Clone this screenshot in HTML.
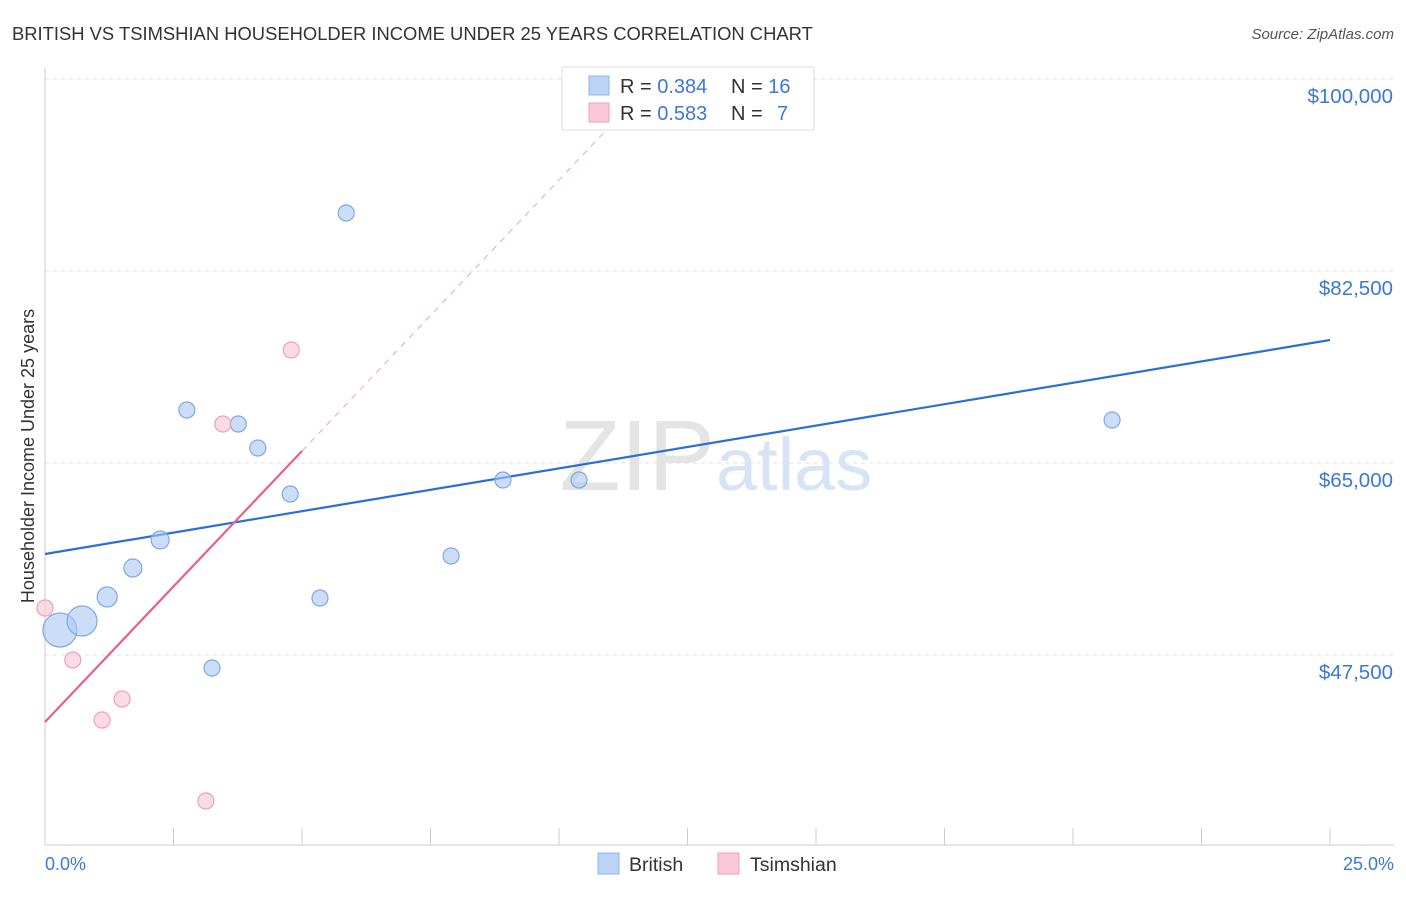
<!DOCTYPE html>
<html><head><meta charset="utf-8"><style>
body{margin:0;background:#fff;font-family:"Liberation Sans",sans-serif;}
svg text{font-family:"Liberation Sans",sans-serif;}
</style></head><body>
<svg id="chart" width="1406" height="892" xmlns="http://www.w3.org/2000/svg">
<text x="12" y="40" font-size="18.4" fill="#333">BRITISH VS TSIMSHIAN HOUSEHOLDER INCOME UNDER 25 YEARS CORRELATION CHART</text>
<text x="1394" y="39" font-size="15" fill="#555" text-anchor="end" font-style="italic">Source: ZipAtlas.com</text>
<text x="715" y="490" font-size="100" fill="#e4e4e4" text-anchor="end" font-family="Liberation Serif">ZIP</text>
<text x="716" y="490" font-size="74" fill="#d6e4f5">atlas</text>
<g id="grid"></g>
<line x1="45" y1="67" x2="45" y2="845" stroke="#ccc"/>
<line x1="45" y1="845" x2="1394" y2="845" stroke="#ccc"/>
<g id="marks"></g>
<text x="34" y="456" font-size="18" fill="#333" text-anchor="middle" transform="rotate(-90 34 456)">Householder Income Under 25 years</text>
<text x="45" y="870" font-size="18" fill="#3b78d8">0.0%</text>
<text x="1394" y="870" font-size="18" fill="#3b78d8" text-anchor="end">25.0%</text>
<g>
<rect x="562" y="67" width="252" height="63" fill="#fff" stroke="#ddd"/>
<rect x="589" y="76" width="20" height="19" fill="#bcd4f5" stroke="#8fb4e8"/>
<rect x="589" y="103" width="20" height="19" fill="#fac9d8" stroke="#f0a0b9"/>
<text x="620" y="93" font-size="20" fill="#333">R = <tspan fill="#3b78d8">0.384</tspan></text>
<text x="731" y="93" font-size="20" fill="#333">N = <tspan fill="#3b78d8">16</tspan></text>
<text x="620" y="120" font-size="20" fill="#333">R = <tspan fill="#3b78d8">0.583</tspan></text>
<text x="731" y="120" font-size="20" fill="#333">N = <tspan x="777" fill="#3b78d8">7</tspan></text>
</g>
<g>
<rect x="598" y="853" width="21" height="21" fill="#bcd4f5" stroke="#8fb4e8"/>
<text x="629" y="871" font-size="19.5" fill="#333">British</text>
<rect x="718" y="853" width="21" height="21" fill="#fac9d8" stroke="#f0a0b9"/>
<text x="750" y="871" font-size="19.5" fill="#333">Tsimshian</text>
</g>
</svg>
<script>
const yTicks=[100000,82500,65000,47500];
const yTickLabels=["$100,000","$82,500","$65,000","$47,500"];
const britishX=[0.29,0.72,1.21,1.71,2.24,2.76,3.25,3.76,4.14,4.77,5.35,5.86,7.90,8.91,10.39,20.76];
const britishY=[49779,50599,52786,55430,57982,69831,46315,68555,66367,62174,52695,87786,56523,63451,63451,68919];
const britishR=[17,15,10,9,9,8,8,8,8,8,8,8,8,8,8,8];
const tsimX=[0,0.54,1.11,1.50,3.13,3.46,4.79];
const tsimY=[51784,47044,41576,43490,34193,68555,75299];
const britishTrend=[56706,76211];
const tsimTrend=[41393,66094];
const NS="http://www.w3.org/2000/svg";
const xs=p=>45+p/25*1285;
const ys=v=>79+(100000-v)/17500*192;
const grid=document.getElementById('grid'),marks=document.getElementById('marks');
function mk(tag,attrs,parent){const e=document.createElementNS(NS,tag);for(const k in attrs)e.setAttribute(k,attrs[k]);parent.appendChild(e);return e;}
yTicks.forEach((v,i)=>{
 const l=mk('line',{x1:45,x2:1394,y1:ys(v),y2:ys(v),stroke:'#e2e2e2','stroke-dasharray':'4,4'},grid);
 
 
 const t=mk('text',{x:1393,y:ys(v)+24,'font-size':20.5,fill:'#3b78d8','text-anchor':'end'},grid);
 t.textContent=yTickLabels[i];
 
 
});
for(let i=0;i<=10;i++){
 const x=xs(i*2.5);
 const l=mk('line',{x1:x,x2:x,y1:i==0?67:828,y2:845,stroke:'#ccc'},grid);
 
 
}
const bt=mk('line',{x1:xs(0),y1:ys(britishTrend[0]),x2:xs(25),y2:ys(britishTrend[1]),stroke:'#2a6fd6','stroke-width':2.2},marks);


const slope=(tsimTrend[1]-tsimTrend[0])/5;
const xEnd=(100000-tsimTrend[0])/slope;
const td=mk('line',{x1:xs(5),y1:ys(tsimTrend[1]),x2:xs(xEnd*0.93),y2:ys(tsimTrend[0]+slope*xEnd*0.93),stroke:'#f0a0b9','stroke-width':1,'stroke-dasharray':'6,6'},marks);


const tt=mk('line',{x1:xs(0),y1:ys(tsimTrend[0]),x2:xs(5),y2:ys(tsimTrend[1]),stroke:'#e8608a','stroke-width':2.2},marks);


britishX.forEach((x,i)=>{
 const c=mk('circle',{cx:xs(x),cy:ys(britishY[i]),r:britishR[i],fill:'rgba(170,200,242,0.6)',stroke:'#7fa8e0','stroke-width':1.2},marks);
 
 
});
tsimX.forEach((x,i)=>{
 const c=mk('circle',{cx:xs(x),cy:ys(tsimY[i]),r:8,fill:'rgba(250,195,212,0.6)',stroke:'#eea0b8','stroke-width':1.2},marks);
 
 
});
</script>
</body></html>
